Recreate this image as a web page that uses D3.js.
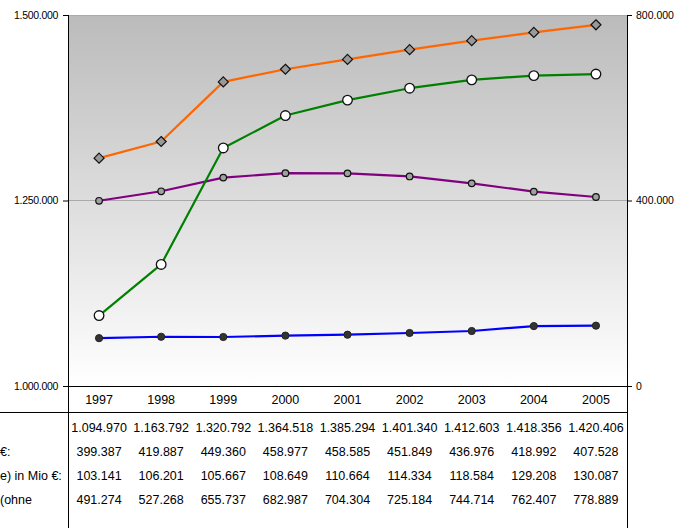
<!DOCTYPE html>
<html><head><meta charset="utf-8">
<script src="https://cdn.jsdelivr.net/npm/d3@7/dist/d3.min.js"></script>
<style>body{margin:0;background:#fff}svg{display:block;font-family:"Liberation Sans",Arial,sans-serif}</style>
</head><body><svg id="c" width="675" height="528"></svg>
<script>
const years = ["1997","1998","1999","2000","2001","2002","2003","2004","2005"];
const seriesGreen  = [1094970,1163792,1320792,1364518,1385294,1401340,1412603,1418356,1420406];
const seriesPurple = [399387,419887,449360,458977,458585,451849,436976,418992,407528];
const seriesBlue   = [103141,106201,105667,108649,110664,114334,118584,129208,130087];
const seriesOrange = [491274,527268,655737,682987,704304,725184,744714,762407,778889];
const rowLabels = ["", "€:", "e) in Mio €:", "(ohne"];
const leftTicks = [1000000,1250000,1500000];
const rightTicks = [0,400000,800000];

const fmt = v => d3.format(",")(v).replace(/,/g,".");
const svg = d3.select("#c");
const L=68,R=627,T=15,B=386;
const x = d3.scaleBand().domain(years).range([L,R]);
const yL = d3.scaleLinear().domain([1000000,1500000]).range([B,T]);
const yR = d3.scaleLinear().domain([0,800000]).range([B,T]);

const defs = svg.append("defs");
const g = defs.append("linearGradient").attr("id","bg").attr("x1",0).attr("y1",0).attr("x2",0).attr("y2",1);
g.append("stop").attr("offset","0%").attr("stop-color","#bbbbbb");
g.append("stop").attr("offset","100%").attr("stop-color","#ffffff");
svg.append("rect").attr("x",L).attr("y",T).attr("width",R-L).attr("height",B-T).attr("fill","url(#bg)");
svg.append("line").attr("x1",L).attr("x2",R).attr("y1",T+0.5).attr("y2",T+0.5).attr("stroke","#aaa");

// gridline
svg.append("line").attr("x1",L).attr("x2",R).attr("y1",yL(1250000)).attr("y2",yL(1250000)).attr("stroke","#aaaaaa").attr("stroke-width",1);

// axes
const axL = d3.axisLeft(yL).tickValues(leftTicks).tickFormat(fmt).tickSize(5).tickPadding(5);
const gL = svg.append("g").attr("transform",`translate(${L},0)`).call(axL);
const axR = d3.axisRight(yR).tickValues(rightTicks).tickFormat(fmt).tickSize(5).tickPadding(4);
const gR = svg.append("g").attr("transform",`translate(${R},0)`).call(axR);
[gL,gR].forEach(a=>{a.select(".domain").remove();a.selectAll("text").attr("font-size",10.5).attr("fill","#000").style("font-family","'Liberation Sans',Arial,sans-serif");a.selectAll("line").attr("stroke","#000");});
gL.selectAll("text").attr("letter-spacing","-0.3");

// frame lines
svg.append("line").attr("x1",L+0.5).attr("x2",L+0.5).attr("y1",T).attr("y2",528).attr("stroke","#000");
svg.append("line").attr("x1",R+0.5).attr("x2",R+0.5).attr("y1",T).attr("y2",528).attr("stroke","#000");
svg.append("line").attr("x1",L).attr("x2",R+5).attr("y1",B+0.5).attr("y2",B+0.5).attr("stroke","#000");
svg.append("line").attr("x1",0).attr("x2",R).attr("y1",412.5).attr("y2",412.5).attr("stroke","#000");

// lines
const cx = d => x(d)+x.bandwidth()/2;
function drawLine(vals, ys, color){
  const line = d3.line().x((d,i)=>cx(years[i])).y(d=>ys(d));
  svg.append("path").datum(vals).attr("d",line).attr("fill","none").attr("stroke",color).attr("stroke-width",2.2).attr("stroke-linejoin","round");
}
drawLine(seriesBlue,yR,"#0000ff");
drawLine(seriesPurple,yR,"#800080");
drawLine(seriesGreen,yL,"#008000");
drawLine(seriesOrange,yR,"#ff6600");

// markers
svg.append("g").selectAll("circle").data(seriesBlue).join("circle")
  .attr("cx",(d,i)=>cx(years[i])).attr("cy",d=>yR(d)).attr("r",3.6).attr("fill","#333").attr("stroke","#222");
svg.append("g").selectAll("circle").data(seriesPurple).join("circle")
  .attr("cx",(d,i)=>cx(years[i])).attr("cy",d=>yR(d)).attr("r",3.3).attr("fill","#a0a0a0").attr("stroke","#111").attr("stroke-width",1.2);
svg.append("g").selectAll("circle").data(seriesGreen).join("circle")
  .attr("cx",(d,i)=>cx(years[i])).attr("cy",d=>yL(d)).attr("r",4.8).attr("fill","#fff").attr("stroke","#111").attr("stroke-width",1.3);
svg.append("g").selectAll("path").data(seriesOrange).join("path")
  .attr("d","M0,-5L5,0L0,5L-5,0Z")
  .attr("transform",(d,i)=>`translate(${cx(years[i])},${yR(d)})`)
  .attr("fill","#999").attr("stroke","#111").attr("stroke-width",1.2);

// table
const tbl = svg.append("g").attr("font-size",12.5).attr("fill","#000");
tbl.selectAll("text.yr").data(years).join("text").attr("class","yr")
  .attr("x",d=>cx(d)).attr("y",404).attr("text-anchor","middle").text(d=>d);
const rows = [seriesGreen, seriesPurple, seriesBlue, seriesOrange];
const rowY = [432,456,480,504];
rows.forEach((r,ri)=>{
  tbl.append("g").selectAll("text").data(r).join("text")
    .attr("x",(d,i)=>cx(years[i])).attr("y",rowY[ri]).attr("text-anchor","middle").text(d=>fmt(d));
  tbl.append("text").attr("x",0).attr("y",rowY[ri]).text(rowLabels[ri]);
});
</script></body></html>
